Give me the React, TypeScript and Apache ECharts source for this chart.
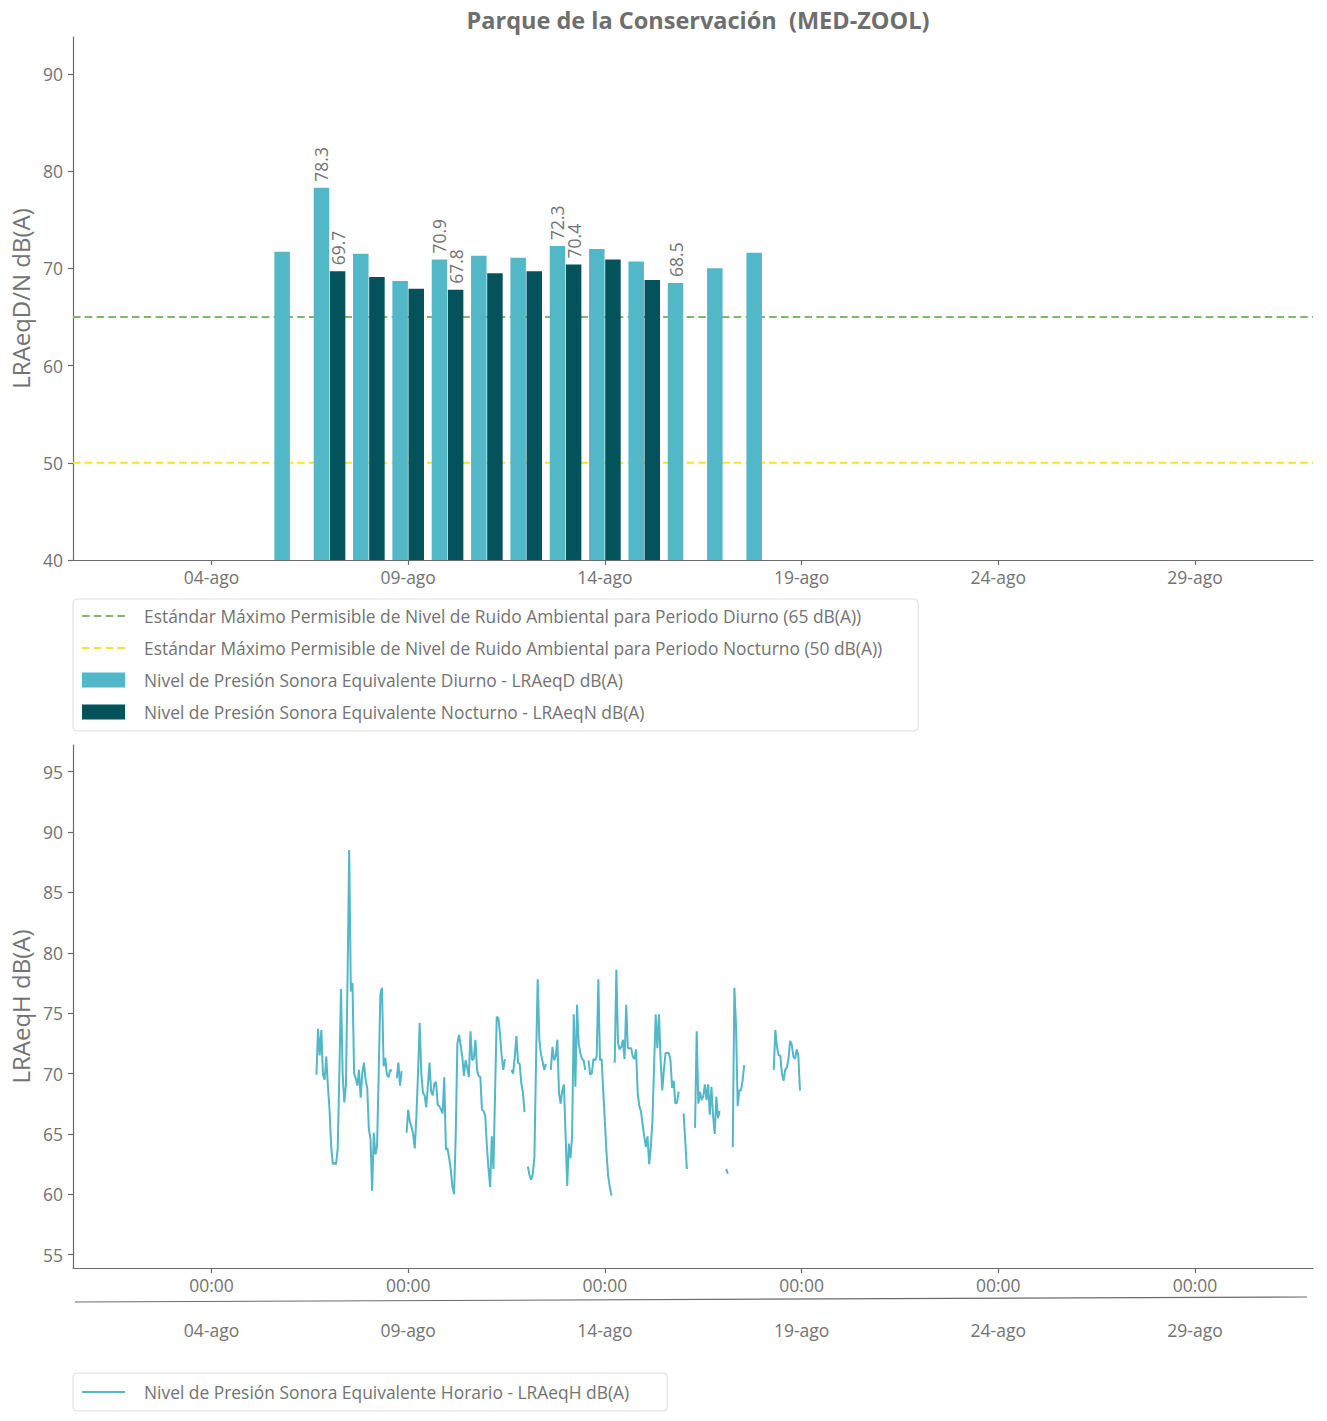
import { useEffect, useRef } from "react";
import * as echarts from "echarts";

const FONT = "'Open Sans', 'Noto Sans', sans-serif";
const TEXT = "#737373";
const AXIS = "#6b6b6b";

const TITLE = "Parque de la Conservación  (MED-ZOOL)";
const DAY_STD_NAME = "Estándar Máximo Permisible de Nivel de Ruido Ambiental para Periodo Diurno (65 dB(A))";
const NIGHT_STD_NAME = "Estándar Máximo Permisible de Nivel de Ruido Ambiental para Periodo Nocturno (50 dB(A))";
const DAY_NAME = "Nivel de Presión Sonora Equivalente Diurno - LRAeqD dB(A)";
const NIGHT_NAME = "Nivel de Presión Sonora Equivalente Nocturno - LRAeqN dB(A)";
const HOURLY_NAME = "Nivel de Presión Sonora Equivalente Horario - LRAeqH dB(A)";

// daily values
const barDates = [
  "2023-08-06", "2023-08-07", "2023-08-08", "2023-08-09", "2023-08-10", "2023-08-11", "2023-08-12",
  "2023-08-13", "2023-08-14", "2023-08-15", "2023-08-16", "2023-08-17", "2023-08-18",
];
const dayValues = [71.7, 78.3, 71.5, 68.7, 70.9, 71.3, 71.1, 72.3, 72.0, 70.7, 68.5, 70.0, 71.6];
const nightValues = [null, 69.7, 69.1, 67.9, 67.8, 69.5, 69.7, 70.4, 70.9, 68.8, null, null, null];
const labeledDates = ["2023-08-07", "2023-08-10", "2023-08-13", "2023-08-16"];

const dayStandard = 65;
const nightStandard = 50;

// axes
const xStart = "2023-07-31T11:30";
const xEnd = "2023-09-01T00:00";
const tickDates = ["2023-08-04", "2023-08-09", "2023-08-14", "2023-08-19", "2023-08-24", "2023-08-29"];
const tickLabels = ["04-ago", "09-ago", "14-ago", "19-ago", "24-ago", "29-ago"];
const hourTickLabel = "00:00";
const topYTicks = [40, 50, 60, 70, 80, 90];
const bottomYTicks = [55, 60, 65, 70, 75, 80, 85, 90, 95];

// hourly values, one per hour from hourlyStart
const hourlyStart = "2023-08-06T16:00";
const hourlyValues = [
  69.9, 73.7, 71.5, 73.6, 69.9, 69.5, 71.4, 69.0, 67.0, 64.0,
  62.5, 62.6, 62.5, 63.8, 70.0, 77.0, 70.0, 67.6, 69.0, 78.0,
  88.5, 76.8, 77.5, 70.0, 69.6, 69.0, 70.3, 68.0, 70.0, 70.9,
  69.5, 68.8, 65.4, 64.6, 60.3, 65.1, 63.3, 64.0, 70.0, 76.5,
  77.1, 70.6, 71.3, 69.9, 69.7, 70.3, 70.2, null, null, 69.6,
  70.9, 69.0, 70.2, null, null, 65.1, 67.0, 66.0, 65.6, 65.0,
  63.8, 66.5, 70.0, 74.2, 70.0, 68.4, 68.2, 67.2, 69.0, 70.9,
  68.5, 68.2, 69.2, 69.3, 67.4, 67.3, 67.0, 66.7, 69.7, 63.7,
  63.8, 63.0, 62.0, 60.6, 60.0, 65.0, 72.5, 73.2, 72.3, 71.4,
  69.8, 71.1, 70.5, 69.7, 73.5, 71.1, 71.2, 72.8, 70.3, 69.8,
  69.7, 67.0, 66.9, 66.5, 64.0, 62.1, 60.6, 64.8, 62.1, 68.4,
  74.7, 74.6, 73.3, 71.5, 70.3, 71.2, null, null, null, 70.3,
  70.0, 71.4, 73.1, 70.9, 70.8, 69.2, 68.4, 66.8, null, 62.3,
  61.6, 61.2, 61.7, 63.1, 71.1, 77.8, 72.8, 71.6, 71.0, 70.3,
  70.8, null, null, 70.3, 72.2, 71.1, 71.4, 72.8, 68.4, 67.5,
  68.6, 69.1, 65.0, 60.7, 64.2, 63.0, 64.8, 74.9, 68.9, 75.7,
  72.5, 71.7, 71.2, 71.1, 70.3, null, 71.1, 69.9, 70.0, 71.2,
  71.1, 71.4, 77.8, 71.1, 71.2, 68.5, 66.0, 63.4, 61.5, 60.6,
  59.9, null, 70.9, 78.6, 72.5, 72.0, 72.2, 72.8, 71.2, 75.7,
  72.1, 72.1, 72.1, 71.4, 71.2, 72.0, 68.4, 67.3, 66.9, 65.8,
  64.8, 63.9, 64.8, 62.5, 63.9, 66.1, 70.6, 74.9, 72.1, 74.9,
  71.1, 68.6, 70.3, 71.7, 71.7, 71.7, 71.1, 68.8, 69.4, 67.5,
  67.6, 68.5, null, null, 66.7, 64.5, 62.1, null, null, null,
  null, 65.5, 73.5, 67.5, 68.5, 67.8, 68.1, 69.1, 67.8, 69.1,
  66.6, 68.9, 66.5, 65.0, 68.1, 66.3, 66.9, null, null, null,
  62.1, 61.7, null, null, 63.9, 77.1, 73.9, 67.3, 68.6, 68.6,
  69.4, 70.7, null, null, null, null, null, null, null, null,
  null, null, null, null, null, null, null, null, null, 70.3,
  73.6, 72.2, 71.5, 71.5, 70.0, 69.4, 70.3, 70.5, 71.2, 72.7,
  72.4, 71.4, 71.2, 72.0, 71.5, 68.6,
];

const HOUR = 3600 * 1000;

// legend icons: thin line in a 43x15 box
const SOLID_ICON = "path://M0,0M0,6.5h43v2h-43zM43,15";
const DASH_ICON =
  "path://M0,0M0,6.5h7.5v2h-7.5zM11.8,6.5h7.5v2h-7.5zM23.6,6.5h7.5v2h-7.5zM35.4,6.5h7.5v2h-7.5zM43,15";

function ts(s: string) {
  const [d, t] = s.split("T");
  const [y, m, dd] = d.split("-").map(Number);
  const [hh, mm] = (t || "00:00").split(":").map(Number);
  return Date.UTC(y, m - 1, dd, hh, mm);
}

function App() {
  const chartRef = useRef(null);

  useEffect(() => {
    document.body.style.margin = "0";
    const myChart = echarts.init(chartRef.current, null, { renderer: "svg" });

    const xMin = ts(xStart);
    const xMax = ts(xEnd);
    const tickTs = tickDates.map(ts);
    const dateLabel = (v: number) => {
      let best = 0;
      tickTs.forEach((t, i) => {
        if (Math.abs(t - v) < Math.abs(tickTs[best] - v)) best = i;
      });
      return tickLabels[best];
    };

    const axisLine = { lineStyle: { color: AXIS, width: 1.2 } };
    const axisTick = { length: 5, lineStyle: { color: AXIS, width: 1.2 } };
    const labelStyle = { color: TEXT, fontSize: 17.5, fontFamily: FONT };
    const legendText = { color: TEXT, fontSize: 17.4, fontFamily: FONT, lineHeight: 20, padding: [0, 0, 0, 14] };

    const barLabel = {
      show: true,
      position: "top",
      rotate: 90,
      align: "left",
      verticalAlign: "middle",
      distance: 6,
      color: TEXT,
      fontSize: 17.5,
      fontFamily: FONT,
      formatter: (p: any) => Number(p.value[1]).toFixed(1),
    };

    const dayData = barDates.map((d, i) => ({
      value: [ts(d), dayValues[i]],
      label: { show: labeledDates.includes(d) },
    }));
    const nightData = barDates
      .map((d, i) => ({
        value: [ts(d), nightValues[i]],
        label: { show: labeledDates.includes(d) },
      }))
      .filter((item) => item.value[1] !== null);

    const hourlyData = hourlyValues.map((v, i) => [ts(hourlyStart) + i * HOUR, v]);

    const xBase = {
      type: "value",
      min: xMin,
      max: xMax,
      position: "bottom",
      splitLine: { show: false },
    };

    const option: any = {
      animation: false,
      textStyle: { fontFamily: FONT },
      title: {
        text: TITLE,
        left: 693,
        textAlign: "center",
        top: 3,
        textStyle: { color: "#6e6e6e", fontSize: 23.5, fontWeight: "bold", fontFamily: FONT },
      },
      legend: [
        {
          data: [
            { name: DAY_STD_NAME, icon: DASH_ICON },
            { name: NIGHT_STD_NAME, icon: DASH_ICON },
            { name: DAY_NAME, icon: "rect" },
            { name: NIGHT_NAME, icon: "rect" },
          ],
          orient: "vertical",
          left: 73,
          top: 599,
          padding: [7, 36, 9, 9],
          itemWidth: 43,
          itemHeight: 15,
          itemGap: 12,
          borderColor: "#dddddd",
          borderWidth: 1,
          borderRadius: 4,
          textStyle: legendText,
        },
        {
          data: [{ name: HOURLY_NAME, icon: SOLID_ICON }],
          orient: "vertical",
          left: 73,
          top: 1373,
          padding: [9, 38, 9, 9],
          itemWidth: 43,
          itemHeight: 15,
          borderColor: "#dddddd",
          borderWidth: 1,
          borderRadius: 4,
          textStyle: legendText,
        },
      ],
      grid: [
        { left: 73, top: 37, width: 1240, height: 523 },
        { left: 73, top: 745, width: 1240, height: 523 },
      ],
      xAxis: [
        {
          ...xBase,
          gridIndex: 0,
          axisLine,
          axisTick: { ...axisTick, customValues: tickTs },
          axisLabel: { ...labelStyle, margin: 8, customValues: tickTs, formatter: dateLabel },
        },
        {
          ...xBase,
          gridIndex: 1,
          axisLine,
          axisTick: { ...axisTick, customValues: tickTs },
          axisLabel: { ...labelStyle, margin: 8, customValues: tickTs, formatter: () => hourTickLabel },
        },
        {
          ...xBase,
          gridIndex: 1,
          offset: 45,
          axisLine: { show: false },
          axisTick: { show: false, customValues: tickTs },
          axisLabel: { ...labelStyle, margin: 8, customValues: tickTs, formatter: dateLabel },
        },
      ],
      yAxis: [
        {
          type: "value",
          gridIndex: 0,
          min: 40,
          max: 93.8,
          name: "LRAeqD/N dB(A)",
          nameLocation: "middle",
          nameGap: 40,
          nameTextStyle: { color: TEXT, fontSize: 24, fontFamily: FONT },
          axisLine: { show: true, ...axisLine },
          axisTick: { show: true, ...axisTick, customValues: topYTicks },
          axisLabel: { ...labelStyle, margin: 10, customValues: topYTicks },
          splitLine: { show: false },
        },
        {
          type: "value",
          gridIndex: 1,
          min: 53.9,
          max: 97.2,
          name: "LRAeqH dB(A)",
          nameLocation: "middle",
          nameGap: 40,
          nameTextStyle: { color: TEXT, fontSize: 24, fontFamily: FONT },
          axisLine: { show: true, ...axisLine },
          axisTick: { show: true, ...axisTick, customValues: bottomYTicks },
          axisLabel: { ...labelStyle, margin: 10, customValues: bottomYTicks },
          splitLine: { show: false },
        },
      ],
      series: [
        {
          name: DAY_STD_NAME,
          type: "line",
          xAxisIndex: 0,
          yAxisIndex: 0,
          symbol: "none",
          color: "#7cb96b",
          lineStyle: { color: "#7cb96b", width: 2, type: [7.5, 4.3] },
          data: [[xMin, dayStandard], [xMax, dayStandard]],
          z: 1,
        },
        {
          name: NIGHT_STD_NAME,
          type: "line",
          xAxisIndex: 0,
          yAxisIndex: 0,
          symbol: "none",
          color: "#f6e32c",
          lineStyle: { color: "#f6e32c", width: 2, type: [7.5, 4.3] },
          data: [[xMin, nightStandard], [xMax, nightStandard]],
          z: 1,
        },
        {
          name: DAY_NAME,
          type: "bar",
          xAxisIndex: 0,
          yAxisIndex: 0,
          barWidth: 15.5,
          barGap: "4%",
          color: "#52b7c6",
          label: barLabel,
          data: dayData,
          z: 3,
        },
        {
          name: NIGHT_NAME,
          type: "bar",
          xAxisIndex: 0,
          yAxisIndex: 0,
          barWidth: 15.5,
          barGap: "4%",
          color: "#04525c",
          label: barLabel,
          data: nightData,
          z: 3,
        },
        {
          name: HOURLY_NAME,
          type: "line",
          xAxisIndex: 1,
          yAxisIndex: 1,
          symbol: "none",
          showSymbol: false,
          connectNulls: false,
          color: "#52b7c6",
          lineStyle: { color: "#52b7c6", width: 2 },
          data: hourlyData,
        },
      ],
      graphic: [
        {
          type: "line",
          shape: { x1: 75, y1: 1302, x2: 1307, y2: 1297 },
          style: { stroke: AXIS, lineWidth: 1.2 },
          silent: true,
        },
      ],
    };

    myChart.setOption(option);

    return () => {
      myChart.dispose();
    };
  }, []);

  return <div ref={chartRef} style={{ width: "1327px", height: "1421px" }}></div>;
}

export default App;
